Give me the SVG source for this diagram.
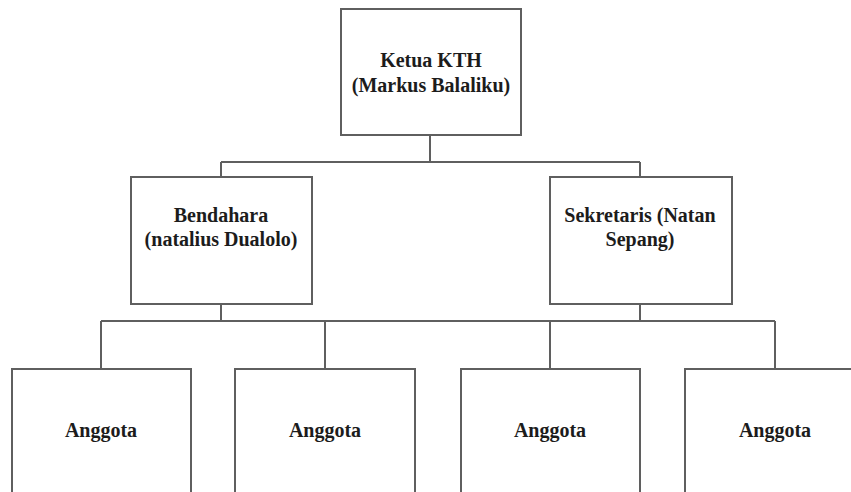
<svg xmlns="http://www.w3.org/2000/svg" width="851" height="492" viewBox="0 0 851 492">
  <style>
    .box { fill: #ffffff; stroke: #5f5f5f; stroke-width: 2; }
    .link { fill: none; stroke: #5f5f5f; stroke-width: 2; }
    .label { font-family: "Liberation Serif", "Times New Roman", serif; font-weight: bold; font-size: 20px; fill: #1c1c1c; text-anchor: middle; }
  </style>
  <rect width="851" height="492" fill="#ffffff"/>

  <!-- connectors -->
  <g id="connectors">
    <path class="link" d="M430,135 V162 M221,162 H640 M221,162 V177 M640,162 V177"/>
    <path class="link" d="M221,304 V321 M640,304 V321 M101,321 H775 M101,321 V369 M325,321 V369 M550,321 V369 M775,321 V369"/>
  </g>

  <!-- chairman -->
  <g id="ketua">
    <rect class="box" x="341" y="9" width="180" height="126"/>
    <text class="label" x="431" y="67">Ketua KTH</text>
    <text class="label" x="431" y="92">(Markus Balaliku)</text>
  </g>

  <!-- treasurer -->
  <g id="bendahara">
    <rect class="box" x="131" y="177" width="181" height="127"/>
    <text class="label" x="221" y="222">Bendahara</text>
    <text class="label" x="221" y="246">(natalius Dualolo)</text>
  </g>

  <!-- secretary -->
  <g id="sekretaris">
    <rect class="box" x="550" y="177" width="182" height="127"/>
    <text class="label" x="640" y="222">Sekretaris (Natan</text>
    <text class="label" x="640" y="246">Sepang)</text>
  </g>

  <!-- members -->
  <g id="anggota-1">
    <rect class="box" x="12" y="369" width="179" height="140"/>
    <text class="label" x="101" y="437">Anggota</text>
  </g>
  <g id="anggota-2">
    <rect class="box" x="235" y="369" width="180" height="140"/>
    <text class="label" x="325" y="437">Anggota</text>
  </g>
  <g id="anggota-3">
    <rect class="box" x="461" y="369" width="179" height="140"/>
    <text class="label" x="550" y="437">Anggota</text>
  </g>
  <g id="anggota-4">
    <rect class="box" x="685" y="369" width="180" height="140"/>
    <text class="label" x="775" y="437">Anggota</text>
  </g>
</svg>
